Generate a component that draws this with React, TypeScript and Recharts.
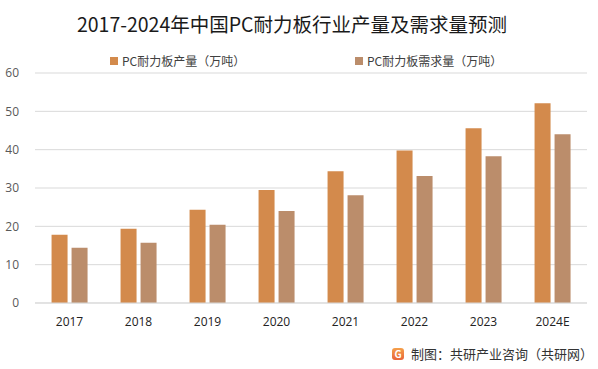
import React from "react";
import { BarChart, Bar, XAxis, YAxis, CartesianGrid } from "recharts";

const years = ["2017", "2018", "2019", "2020", "2021", "2022", "2023", "2024E"];
const output = [17.8, 19.4, 24.3, 29.5, 34.4, 39.8, 45.6, 52.1];
const demand = [14.4, 15.7, 20.4, 24.0, 28.1, 33.1, 38.3, 44.0];
const yTicks = [0, 10, 20, 30, 40, 50, 60];

const outputName = "PC耐力板产量（万吨）";
const demandName = "PC耐力板需求量（万吨）";
const orange = "#D38A4C";
const brown = "#BB8D6B";

const data = years.map((y, i) => ({ year: y, output: output[i], demand: demand[i] }));

const cjk = '"Noto Sans CJK SC", "Noto Sans", sans-serif';

export default function App() {
	return (
		<div
			style={{
				position: "fixed",
				left: 0,
				top: 0,
				width: 598,
				height: 369,
				background: "#fff",
				fontFamily: cjk,
			}}
		>
			<div
				style={{
					position: "absolute",
					left: 0,
					top: 10,
					width: 584,
					textAlign: "center",
					fontSize: 19.5,
					color: "#1a1a1a",
					lineHeight: "28px",
				}}
			>
				2017-2024年中国PC耐力板行业产量及需求量预测
			</div>
			<div
				style={{
					position: "absolute",
					top: 52,
					left: 110,
					fontSize: 12,
					color: "#404040",
					display: "flex",
					alignItems: "center",
					lineHeight: "18px",
				}}
			>
				<span style={{ width: 8, height: 8, background: orange, marginRight: 4 }} />
				<span style={{ width: 233 }}>{outputName}</span>
				<span style={{ width: 8, height: 8, background: brown, marginRight: 4 }} />
				<span>{demandName}</span>
			</div>
			<BarChart
				width={598}
				height={369}
				data={data}
				margin={{ top: 73, right: 11, left: 0, bottom: 36 }}
				barCategoryGap="24%"
				barGap={4}
			>
				<CartesianGrid vertical={false} stroke="#d9d9d9" strokeWidth={1} />
				<XAxis
					dataKey="year"
					axisLine={{ stroke: "#d9d9d9" }}
					tickLine={false}
					tick={{ fill: "#222", fontSize: 12, fontFamily: '"Open Sans", sans-serif' }}
					tickMargin={8}
					height={30}
				/>
				<YAxis
					domain={[0, 60]}
					ticks={yTicks}
					width={35}
					axisLine={false}
					tickLine={false}
					tick={{ fill: "#595959", fontSize: 12, fontFamily: '"Open Sans", sans-serif' }}
					tickMargin={10}
				/>
				<Bar dataKey="output" name={outputName} fill={orange} isAnimationActive={false} />
				<Bar dataKey="demand" name={demandName} fill={brown} isAnimationActive={false} />
			</BarChart>
			<div
				style={{
					position: "absolute",
					left: 392,
					top: 344,
					fontSize: 13,
					color: "#333",
					display: "flex",
					alignItems: "center",
				}}
			>
				<span
					style={{
						width: 12,
						height: 12,
						borderRadius: 3,
						background: "linear-gradient(#f5a04a, #e8643a)",
						color: "#fff",
						fontSize: 10,
						lineHeight: "12px",
						textAlign: "center",
						fontWeight: "bold",
						marginRight: 7,
					}}
				>
					G
				</span>
				制图：共研产业咨询（共研网）
			</div>
		</div>
	);
}
